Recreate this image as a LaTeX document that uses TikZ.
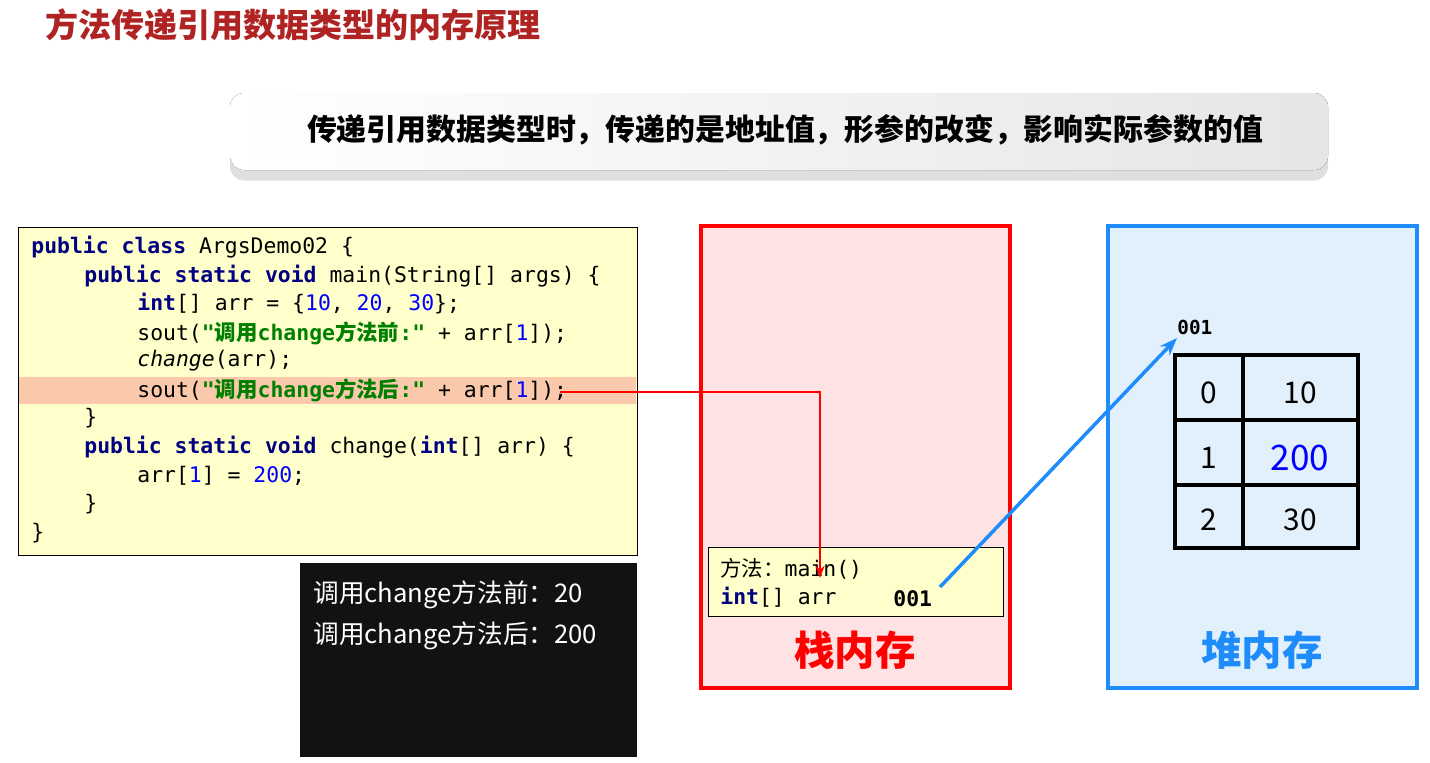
\documentclass[tikz,border=0pt]{standalone}
\usepackage{fontspec}
\setmainfont{Noto Sans CJK SC}
\setmonofont{DejaVu Sans Mono}
\newfontfamily\cjk{Noto Sans CJK SC}
\usetikzlibrary{arrows.meta,shadows}
\definecolor{kwColor}{RGB}{0,0,128}
\definecolor{numColor}{RGB}{0,0,255}
\definecolor{strColor}{RGB}{0,128,0}
\definecolor{codeBg}{RGB}{255,255,204}
\definecolor{hlColor}{RGB}{250,200,170}
\definecolor{stackBg}{RGB}{255,226,228}
\definecolor{heapBg}{RGB}{226,240,252}
\definecolor{heapBlue}{RGB}{30,140,250}
\definecolor{titleRed}{RGB}{175,35,35}
\newcommand{\kw}[1]{\textcolor{kwColor}{\textbf{#1}}}
\newcommand{\num}[1]{\textcolor{numColor}{#1}}
\newcommand{\str}[1]{\textcolor{strColor}{\textbf{#1}}}
\newcommand{\zh}[1]{{\cjk #1}}
\tikzset{
  codeline/.style={anchor=west,inner sep=0pt,font=\ttfamily\fontsize{12.2}{14}\selectfont},
  cell/.style={inner sep=0pt,font=\fontsize{17}{20}\selectfont},
  memtitle/.style={inner sep=0pt,font=\bfseries\fontsize{23}{27}\selectfont},
  outline/.style={anchor=west,inner sep=0pt,text=white,font=\fontsize{14.6}{17}\selectfont},
}
\begin{document}
\begin{tikzpicture}[x=0.02cm,y=-0.02cm]
\useasboundingbox (0,0) rectangle (1430,762);
% title and banner
\node[anchor=west,inner sep=0pt,text=titleRed,font=\bfseries\fontsize{18.8}{22}\selectfont] (title) at (45,25) {方法传递引用数据类型的内存原理};
\fill[rounded corners=8pt,left color=white,right color=black!10,drop shadow={opacity=0.25,shadow xshift=0pt,shadow yshift=-6pt}] (230,93) rectangle (1328,170);
\node[inner sep=0pt,font=\bfseries\fontsize{17}{20}\selectfont] (banner) at (785,130) {传递引用数据类型时，传递的是地址值，形参的改变，影响实际参数的值};
% code box
\draw[fill=codeBg] (18,227) rectangle (637,555);
\fill[hlColor] (19,377) rectangle (636,404);
\node[codeline] (c1) at (31,247) {\kw{public} \kw{class} ArgsDemo02 \{};
\node[codeline] (c2) at (84,276) {\kw{public} \kw{static} \kw{void} main(String[] args) \{};
\node[codeline] (c3) at (137,304) {\kw{int}[] arr = \{\num{10}, \num{20}, \num{30}\};};
\node[codeline] (c4) at (137,333) {sout(\str{"\zh{调用}change\zh{方法前}:"} + arr[\num{1}]);};
\node[codeline] (c5) at (137,361) {\textit{change}(arr);};
\node[codeline] (c6) at (137,390) {sout(\str{"\zh{调用}change\zh{方法后}:"} + arr[\num{1}]);};
\node[codeline] (c7) at (84,418) {\}};
\node[codeline] (c8) at (84,447) {\kw{public} \kw{static} \kw{void} change(\kw{int}[] arr) \{};
\node[codeline] (c9) at (137,476) {arr[\num{1}] = \num{200};};
\node[codeline] (c10) at (84,504) {\}};
\node[codeline] (c11) at (31,533) {\}};
% console
\fill[black!93] (300,563) rectangle (637,757);
\node[outline] (out1) at (313,595) {调用change方法前：20};
\node[outline] (out2) at (313,636) {调用change方法后：200};
% stack
\draw[red,line width=2.5pt,fill=stackBg] (701,226) rectangle (1010,688);
\draw[fill=codeBg] (708,547) rectangle (1003,616);
\node[codeline] (frame) at (720,569) {\zh{方法：}main()};
\node[codeline] (arr) at (720,597) {\kw{int}[] arr};
\node[codeline,font=\ttfamily\bfseries\fontsize{12.2}{14}\selectfont] (addr) at (893,599) {001};
\node[memtitle,text=red] (stackname) at (855,650) {栈内存};
% heap
\draw[heapBlue,line width=2.5pt,fill=heapBg] (1108,226) rectangle (1417,688);
\draw[line width=2.2pt] (1175,355) rectangle (1358,548);
\draw[line width=2.2pt] (1243,355) -- (1243,548);
\draw[line width=2.2pt] (1175,420) -- (1358,420) (1175,485) -- (1358,485);
\node[cell] (i0) at (1209,393) {0};
\node[cell] (v0) at (1300,393) {10};
\node[cell] (i1) at (1209,458) {1};
\node[cell,text=numColor,font=\fontsize{20}{24}\selectfont] (v1) at (1300,458) {200};
\node[cell] (i2) at (1209,520) {2};
\node[cell] (v2) at (1300,520) {30};
\node[codeline,font=\ttfamily\bfseries\fontsize{11}{13}\selectfont] (heapaddr) at (1177,327) {001};
\node[memtitle,text=heapBlue] (heapname) at (1262,650) {堆内存};
% connectors
\coordinate (hlend) at (560,392);
\coordinate (bend) at (820,392);
\coordinate (arrtip) at (820,578);
\coordinate (addrout) at (940,587);
\coordinate (heaptip) at (1177,338);
\draw[red,line width=1pt,-{Stealth[length=7pt]}] (hlend) -- (bend) -- (arrtip);
\draw[heapBlue,line width=2pt,-{Stealth[length=10pt]}] (addrout) -- (heaptip);
\end{tikzpicture}
\end{document}
